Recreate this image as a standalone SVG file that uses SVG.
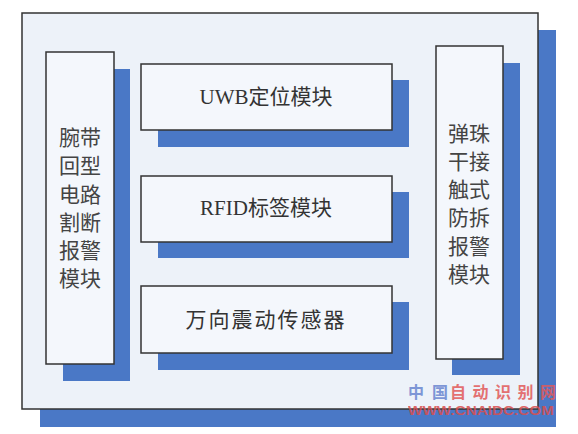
<svg xmlns="http://www.w3.org/2000/svg" width="578" height="434" viewBox="0 0 578 434">
<style>
.sh{fill:#4a78c6}
.outer{fill:#edf2f9;stroke:#333;stroke-width:1.5}
.box{fill:#f4f7fc;stroke:#333;stroke-width:1.5}
.t{font-family:"Liberation Serif","Noto Sans CJK SC",serif;font-size:21px;fill:#333;text-anchor:middle;dominant-baseline:central}
.v{font-family:"Noto Sans CJK SC",sans-serif;font-size:21px;fill:#444;text-anchor:middle;dominant-baseline:central}
.wm{font-family:"Noto Sans CJK SC",sans-serif;font-weight:bold;font-size:16px}
</style>
<rect width="578" height="434" fill="#fff"/>
<g id="container">
<rect class="sh" x="40" y="30" width="516" height="397"/>
<rect class="outer" x="22" y="13" width="516" height="396"/>
</g>
<g id="wrist-alarm">
<rect class="sh" x="63" y="69" width="67" height="312"/>
<rect class="box" x="46" y="52" width="68" height="312"/>
<text class="v" x="80" y="136">腕带</text>
<text class="v" x="80" y="164">回型</text>
<text class="v" x="80" y="193">电路</text>
<text class="v" x="80" y="221">割断</text>
<text class="v" x="80" y="249">报警</text>
<text class="v" x="80" y="277">模块</text>
</g>
<g id="uwb">
<rect class="sh" x="158" y="80" width="251" height="67"/>
<rect class="box" x="141" y="64" width="251" height="66"/>
<text class="t" x="266" y="97">UWB定位模块</text>
</g>
<g id="rfid">
<rect class="sh" x="158" y="192" width="251" height="66"/>
<rect class="box" x="141" y="176" width="251" height="66"/>
<text class="t" x="266" y="208">RFID标签模块</text>
</g>
<g id="vibration">
<rect class="sh" x="158" y="302" width="251" height="68"/>
<rect class="box" x="141" y="286" width="251" height="67"/>
<text class="t" x="266" y="320" letter-spacing="2">万向震动传感器</text>
</g>
<g id="tamper-alarm">
<rect class="sh" x="452" y="63" width="68" height="312"/>
<rect class="box" x="436" y="46" width="67" height="313"/>
<text class="v" x="469" y="132">弹珠</text>
<text class="v" x="469" y="160">干接</text>
<text class="v" x="469" y="188">触式</text>
<text class="v" x="469" y="216">防拆</text>
<text class="v" x="469" y="245">报警</text>
<text class="v" x="469" y="273">模块</text>
</g>
<g id="watermark" opacity="0.85">
<text class="wm" x="408" y="398" fill="#6a86d0" textLength="40" lengthAdjust="spacing">中国</text>
<text class="wm" x="450" y="398" fill="#e25a5a" textLength="106" lengthAdjust="spacing">自动识别网</text>
<text x="408" y="415" font-family="Liberation Sans,sans-serif" font-weight="bold" font-size="12" fill="#d94f4f" textLength="146" lengthAdjust="spacingAndGlyphs">WWW.CNAIDC.COM</text>
</g>
</svg>
